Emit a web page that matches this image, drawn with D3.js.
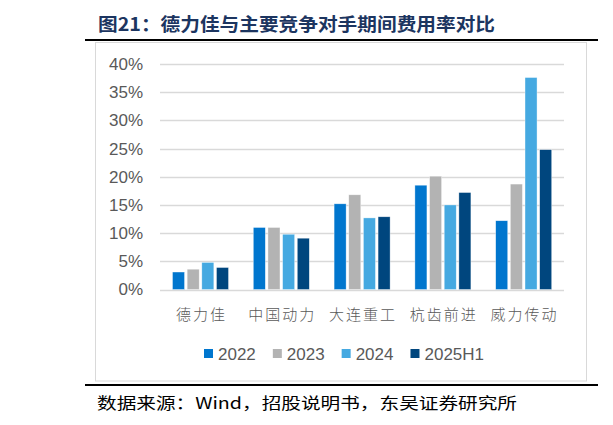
<!DOCTYPE html>
<html>
<head>
<meta charset="utf-8">
<script src="https://cdn.jsdelivr.net/npm/d3@7"></script>
<style>
    html, body { margin: 0; padding: 0; background: #fff; }
    svg { display: block; }
</style>
</head>
<body>
<div id="chart"></div>
<script>
var categories = ["德力佳", "中国动力", "大连重工", "杭齿前进", "威力传动"];
var seriesNames = ["2022", "2023", "2024", "2025H1"];
var v2022 = [0.031, 0.110, 0.152, 0.185, 0.122];
var v2023 = [0.036, 0.110, 0.168, 0.201, 0.187];
var v2024 = [0.048, 0.098, 0.127, 0.150, 0.376];
var v2025H1 = [0.039, 0.091, 0.129, 0.172, 0.248];
var yTicks = [0, 0.05, 0.10, 0.15, 0.20, 0.25, 0.30, 0.35, 0.40];
var titleText = "图21：德力佳与主要竞争对手期间费用率对比";
var sourceText = "数据来源：Wind，招股说明书，东吴证券研究所";

var colors = { "2022": "#0076CE", "2023": "#B3B3B3", "2024": "#45A9E1", "2025H1": "#00467E" };
var seriesValues = { "2022": v2022, "2023": v2023, "2024": v2024, "2025H1": v2025H1 };

var W = 613, H = 425;
var svg = d3.select("#chart").append("svg")
    .attr("width", W)
    .attr("height", H);

// title + rules
svg.append("text")
    .attr("x", 98)
    .attr("y", 31)
    .attr("textLength", 397)
    .attr("lengthAdjust", "spacingAndGlyphs")
    .style("font-family", "'Noto Sans CJK SC', sans-serif")
    .style("font-weight", "bold")
    .style("font-size", "18px")
    .style("fill", "#1C3560")
    .text(titleText);

svg.append("line")
    .attr("x1", 85).attr("x2", 598)
    .attr("y1", 40).attr("y2", 40)
    .style("stroke", "#000").style("stroke-width", 2);

svg.append("rect")
    .attr("x", 95.5).attr("y", 42.5)
    .attr("width", 491).attr("height", 338.5)
    .style("fill", "#fff")
    .style("stroke", "#d9d9d9").style("stroke-width", 1);

svg.append("line")
    .attr("x1", 85).attr("x2", 598)
    .attr("y1", 385).attr("y2", 385)
    .style("stroke", "#000").style("stroke-width", 2);

svg.append("text")
    .attr("x", 97)
    .attr("y", 409)
    .attr("textLength", 420)
    .attr("lengthAdjust", "spacingAndGlyphs")
    .style("font-family", "'Noto Sans CJK SC', sans-serif")
    .style("font-size", "16px")
    .style("fill", "#000")
    .text(sourceText);

// scales
var x0 = d3.scaleBand().domain(categories).range([160, 564]).padding(0);
var x1 = d3.scaleBand().domain(seriesNames).range([12.5, 68.5]).paddingInner(0.18).paddingOuter(0);
var y = d3.scaleLinear().domain([0, 0.4]).range([289.5, 64]);

// gridlines
svg.append("g").selectAll("line")
    .data(yTicks)
    .enter().append("line")
    .attr("x1", 160).attr("x2", 564)
    .attr("y1", function (d) { return Math.round(y(d)) + 0.5; })
    .attr("y2", function (d) { return Math.round(y(d)) + 0.5; })
    .style("stroke", "#d9d9d9").style("stroke-width", 1.4);

// y axis labels (no domain line)
var yAxis = d3.axisLeft(y).tickValues(yTicks).tickFormat(d3.format(".0%")).tickSize(0).tickPadding(0);
var yg = svg.append("g")
    .attr("transform", "translate(143,0)")
    .call(yAxis);
yg.select(".domain").remove();
yg.selectAll("text")
    .style("font-family", "'Liberation Sans', Arial, sans-serif")
    .style("font-size", "17px")
    .style("fill", "#595959");

// bars
var groups = svg.append("g").selectAll(".grp")
    .data(categories)
    .enter().append("g")
    .classed("grp", true)
    .attr("transform", function (d) { return "translate(" + x0(d) + ",0)"; });

groups.selectAll("rect")
    .data(function (c, i) {
        return seriesNames.map(function (s) { return { s: s, v: seriesValues[s][i] }; });
    })
    .enter().append("rect")
    .attr("x", function (d) { return x1(d.s); })
    .attr("width", x1.bandwidth())
    .attr("y", function (d) { return y(d.v); })
    .attr("height", function (d) { return y(0) - y(d.v); })
    .style("fill", function (d) { return colors[d.s]; })
    .style("stroke", "rgba(255,255,255,0.6)")
    .style("stroke-width", 0.6);

// category labels
var xAxis = d3.axisBottom(x0).tickSize(0).tickPadding(0);
var xg = svg.append("g")
    .attr("transform", "translate(1,306)")
    .call(xAxis);
xg.select(".domain").remove();
xg.selectAll("text")
    .attr("dy", "0.9em")
    .style("font-family", "'Noto Sans CJK SC', sans-serif")
    .style("font-weight", "300")
    .style("font-size", "15px")
    .style("letter-spacing", "2px")
    .style("fill", "#595959");

// legend
var legend = svg.append("g").attr("transform", "translate(204,0)");
var lx = 0;
seriesNames.forEach(function (s) {
    var item = legend.append("g").attr("transform", "translate(" + lx + ",0)");
    item.append("rect")
        .attr("x", 0).attr("y", 349)
        .attr("width", 9).attr("height", 9)
        .style("fill", colors[s]);
    var t = item.append("text")
        .attr("x", 14).attr("y", 360)
        .style("font-family", "'Liberation Sans', Arial, sans-serif")
        .style("font-size", "17px")
        .style("fill", "#595959")
        .text(s);
    lx += 14 + t.node().getComputedTextLength() + 17;
});
</script>
</body>
</html>
